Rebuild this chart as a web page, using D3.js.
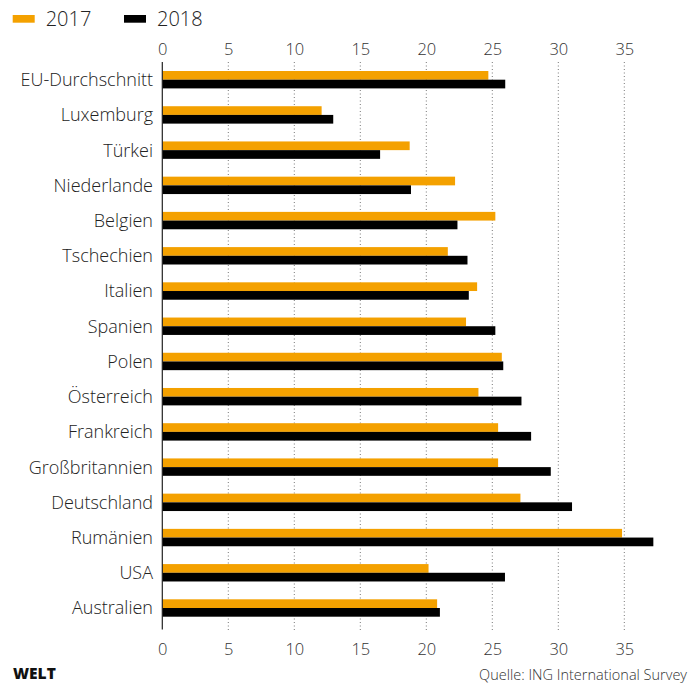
<!DOCTYPE html>
<html><head><meta charset="utf-8">
<script src="https://cdn.jsdelivr.net/npm/d3@7"></script>
<style>body{margin:0;background:#fff}svg{display:block}text{font-family:"Open Sans",Lato,sans-serif}</style>
</head><body><svg id="c" width="690" height="684"></svg>
<script>
const categories = ["EU-Durchschnitt","Luxemburg","Türkei","Niederlande","Belgien","Tschechien","Italien","Spanien","Polen","Österreich","Frankreich","Großbritannien","Deutschland","Rumänien","USA","Australien"];
const values2017 = [24.7,12.07,18.74,22.18,25.23,21.63,23.85,23.01,25.72,23.95,25.44,25.44,27.13,34.83,20.17,20.82];
const values2018 = [25.98,12.95,16.5,18.84,22.36,23.12,23.22,25.23,25.83,27.21,27.94,29.43,31.04,37.2,25.96,21.03];
const seriesNames = ["2017","2018"];
const tickValues = [0,5,10,15,20,25,30,35];
const colors = ["#f4a100","#000000"];

const svg = d3.select("#c");
const x = d3.scaleLinear().domain([0,35]).range([162.3,624.3]);
const y = d3.scaleBand().domain(categories).range([71,616.7]).paddingInner(0.506).paddingOuter(0);
const sub = d3.scaleBand().domain(seriesNames).range([0,y.bandwidth()]);

// grid
svg.append("g").selectAll("line").data(tickValues.filter(d=>d>0)).join("line")
  .attr("x1",d=>x(d)).attr("x2",d=>x(d)).attr("y1",62).attr("y2",632)
  .attr("stroke","#777").attr("stroke-width",1).attr("stroke-dasharray","1,2.5");

// bars
const g = svg.append("g");
categories.forEach((c,i)=>{
  [values2017[i],values2018[i]].forEach((v,j)=>{
    g.append("rect").attr("x",x(0)).attr("y",y(c)+sub(seriesNames[j]))
     .attr("width",x(v)-x(0)).attr("height",sub.bandwidth()).attr("fill",colors[j]);
  });
});

// axis line
svg.append("line").attr("x1",x(0)).attr("x2",x(0)).attr("y1",62).attr("y2",629.5).attr("stroke","#222").attr("stroke-width",1.2);

// axes labels
const gt = svg.append("g").attr("transform","translate(0,48.7)").call(d3.axisTop(x).tickValues(tickValues).tickSize(0).tickPadding(0));
const gb = svg.append("g").attr("transform","translate(0,649)").call(d3.axisBottom(x).tickValues(tickValues).tickSize(0).tickPadding(0));
[gt,gb].forEach(a=>{a.select(".domain").remove();a.selectAll("text").attr("font-size",16.5).attr("fill","#333").attr("font-family","'Open Sans',Lato,sans-serif").attr("font-weight",300).attr("dy","0.36em");});

// category labels
svg.append("g").selectAll("text").data(categories).join("text")
  .attr("x",153).attr("y",d=>y(d)+y.bandwidth()/2).attr("dy","0.36em")
  .attr("text-anchor","end").attr("font-size",18).attr("font-weight",300).attr("fill","#222").text(d=>d);

// legend
const lg = svg.append("g");
seriesNames.forEach((s,i)=>{
  const lx = [12.7,124][i];
  lg.append("rect").attr("x",lx).attr("y",15).attr("width",22).attr("height",7.7).attr("fill",colors[i]);
  lg.append("text").attr("x",lx+33).attr("y",18.5).attr("dy","0.36em").attr("font-size",20).attr("fill","#222").attr("font-weight",300).text(s);
});

// footer
svg.append("text").attr("x",13).attr("y",679).attr("font-size",15.5).attr("font-weight",900).attr("fill","#111").attr("font-family","Roboto,Lato,sans-serif").text("WELT");
svg.append("text").attr("x",687).attr("y",679.5).attr("text-anchor","end").attr("font-size",14.5).attr("font-weight",300).attr("fill","#333").text("Quelle: ING International Survey");
</script></body></html>
